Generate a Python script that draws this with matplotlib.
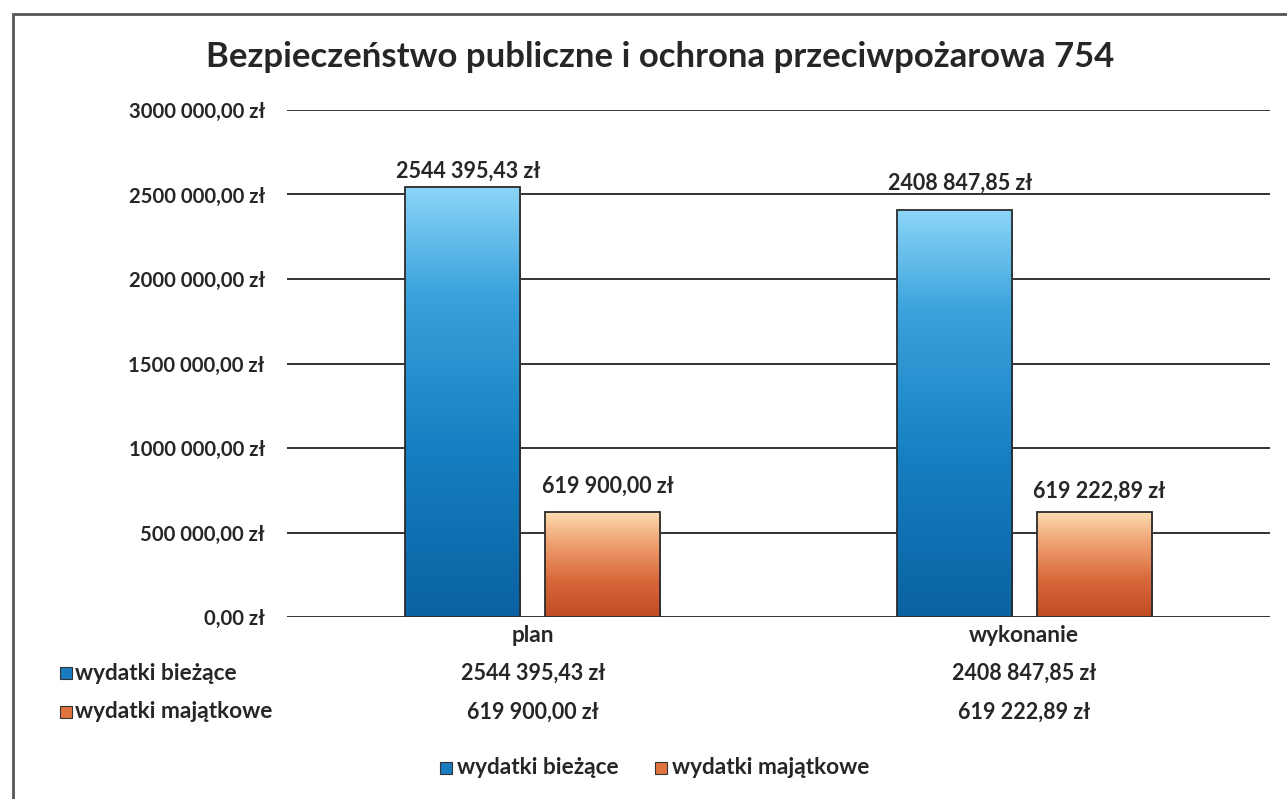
import numpy as np
import matplotlib
matplotlib.use("Agg")
import matplotlib.pyplot as plt
from matplotlib.colors import LinearSegmentedColormap
from matplotlib.patches import Rectangle

# ---- data ----
title = "Bezpieczeństwo publiczne i ochrona przeciwpożarowa 754"
categories = ["plan", "wykonanie"]
series_names = ["wydatki bieżące", "wydatki majątkowe"]
biezace = [2544395.43, 2408847.85]
majatkowe = [619900.00, 619222.89]
yticks = [0, 500000, 1000000, 1500000, 2000000, 2500000, 3000000]

def fmt(v):
    s = f"{v:,.2f}"
    intpart, dec = s.split(".")
    parts = intpart.split(",")
    if len(parts) >= 3:
        intpart = "".join(parts[:-1]) + " " + parts[-1]
    else:
        intpart = " ".join(parts)
    return f"{intpart},{dec} zł"

FONT = ["Lato", "DejaVu Sans"]
plt.rcParams["font.family"] = FONT
TXT = "#262626"
NUM_FS = 15.5
NAME_FS = 16.3

W, H = 1287, 799
fig = plt.figure(figsize=(W / 100, H / 100), dpi=100)
fig.patch.set_facecolor("white")

# outer border of the scanned chart
fig.add_artist(Rectangle((13 / W, -0.05), 1.2, 1 - 14 / H + 0.05,
                         transform=fig.transFigure, fill=False,
                         edgecolor="#555555", linewidth=2))

ax = fig.add_axes([287 / W, 1 - 617 / H, 983 / W, 507 / H])
for s in ax.spines.values():
    s.set_visible(False)
ax.set_yticks(yticks)
ax.set_yticklabels([fmt(v) for v in yticks], fontsize=14.6, fontweight="bold", color=TXT)
ax.tick_params(axis="y", length=0, pad=16)
ax.set_xticks([])
ax.grid(axis="y", color="#333333", linewidth=1.4)
ax.set_axisbelow(True)

blue_cmap = LinearSegmentedColormap.from_list(
    "b", [(0, "#0a62a2"), (0.4, "#1680c2"), (0.75, "#3aa2dc"), (1, "#8cd6f8")])
orange_cmap = LinearSegmentedColormap.from_list(
    "o", [(0, "#bf4c24"), (0.35, "#d8683a"), (0.7, "#eea070"), (1, "#fcdcb0")])

x = np.arange(len(categories))
bw = 0.234
off = 0.142
# label offsets above each bar (points)
series = [(biezace, -off, blue_cmap, [4, 12]), (majatkowe, off, orange_cmap, [11, 8])]
grad = np.linspace(0, 1, 256).reshape(-1, 1)
for vals, o, cmap, lab_offs in series:
    bars = ax.bar(x + o, vals, width=bw, color="none", edgecolor="#2b2b2b",
                  linewidth=1.3, zorder=3)
    for b, v, lo in zip(bars, vals, lab_offs):
        x0, y0 = b.get_x(), b.get_y()
        im = ax.imshow(grad, cmap=cmap, origin="lower", aspect="auto",
                       extent=(x0, x0 + b.get_width(), y0, y0 + b.get_height()),
                       zorder=2)
        im.set_clip_path(b)
        ax.annotate(fmt(v), (b.get_x() + b.get_width() / 2, v),
                    xytext=(4, lo), textcoords="offset points",
                    ha="center", va="bottom", fontsize=NUM_FS, fontweight="bold", color=TXT)
ax.set_xlim(-0.5, 1.5)
ax.set_ylim(0, 3000000)

fig.text(660 / W, 1 - 57 / H, title, ha="center", va="center",
         fontsize=25, fontweight="bold", color=TXT)

# data table below
cat_y = 636
row_y = [673, 712]
for i, c in enumerate(categories):
    xd = ax.transData.transform((x[i], 0))[0] / W
    fig.text(xd, 1 - cat_y / H, c, ha="center", va="center",
             fontsize=NAME_FS, fontweight="bold", color=TXT)

marker_colors = ["#1a7cc0", "#e0733e"]
for r, (name, vals) in enumerate(zip(series_names, [biezace, majatkowe])):
    yy = 1 - row_y[r] / H
    fig.add_artist(Rectangle((60 / W, yy - 6 / H), 12 / W, 12 / H, transform=fig.transFigure,
                             facecolor=marker_colors[r], edgecolor="#333333", linewidth=0.8))
    fig.text(75 / W, yy, name, ha="left", va="center", fontsize=NAME_FS,
             fontweight="bold", color=TXT)
    for i, v in enumerate(vals):
        xd = ax.transData.transform((x[i], 0))[0] / W
        fig.text(xd, yy, fmt(v), ha="center", va="center", fontsize=NUM_FS,
                 fontweight="bold", color=TXT)

# bottom legend
leg_y = 1 - 768 / H
leg_x = [440, 655]
for k, name in enumerate(series_names):
    fig.add_artist(Rectangle((leg_x[k] / W, leg_y - 6 / H), 12 / W, 12 / H, transform=fig.transFigure,
                             facecolor=marker_colors[k], edgecolor="#333333", linewidth=0.8))
    fig.text((leg_x[k] + 17) / W, leg_y, name, ha="left", va="center", fontsize=NAME_FS,
             fontweight="bold", color=TXT)

fig.savefig("out.png", dpi=100, facecolor="white")
